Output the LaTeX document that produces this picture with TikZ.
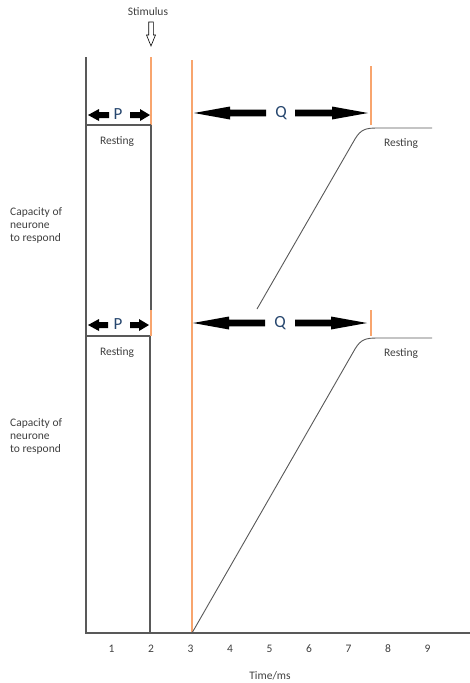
\documentclass[tikz,border=0pt]{standalone}
\usepackage{fontspec}
\setmainfont{Carlito}
\definecolor{axisgray}{RGB}{89,89,89}
\definecolor{orangeln}{RGB}{248,165,110}
\definecolor{txtgray}{RGB}{64,64,64}
\definecolor{pqblue}{RGB}{38,70,110}
\newcommand{\blockarr}[6]{% tipx, basex, endx, y, headhalf, shafthalf
  \fill[black] (#1,#4) -- (#2,#4-#5) -- (#2,#4-#6) -- (#3,#4-#6) -- (#3,#4+#6) -- (#2,#4+#6) -- (#2,#4+#5) -- cycle;}
\begin{document}
\begin{tikzpicture}[x=1pt,y=-1pt,
  ln/.style={draw=axisgray,line width=1.1pt},
  oln/.style={draw=orangeln,line width=1.1pt},
  lbl/.style={text=txtgray,font=\fontsize{11.5}{13}\selectfont,inner sep=0pt},
  pq/.style={text=pqblue,font=\fontsize{17}{17}\selectfont,inner sep=0pt}]
\useasboundingbox[fill=white] (0,0) rectangle (470,683);

% stimulus
\node[lbl] (stim) at (148,12) {Stimulus};
\draw[black,line width=0.6pt,fill=white] (148.7,22) -- (153.3,22) -- (153.3,35) -- (155.5,35) -- (151,46) -- (146.5,35) -- (148.7,35) -- cycle;

% ---------- top diagram ----------
\draw[ln] (86,57) -- (86,633);
\draw[oln] (151,57) -- (151,125);
\draw[ln] (151,125) -- (151,310);
\draw[ln] (86,125) -- (151,125);
\draw[oln] (192,60) -- (192,633);
\draw[oln] (371,66) -- (371,125);
\blockarr{88}{99}{109}{115}{6}{3}
\blockarr{150}{140}{130}{115}{6}{3}
\node[pq] (ptop) at (118,114) {P};
\blockarr{194}{230}{266}{113}{6.5}{3.3}
\blockarr{368}{332}{295}{113}{6.5}{3.3}
\node[pq] (qtop) at (281,113) {Q};
\node[lbl] (rest1) at (117,142) {Resting};
\node[lbl] (rest2) at (401,144) {Resting};
\draw[axisgray,line width=0.9pt] (257,309) -- (355,139) .. controls (361,129) and (366,128) .. (378,128) -- (432,128);
\node[lbl,anchor=west,align=left] (cap1) at (10,225) {Capacity of\\neurone\\to respond};

% ---------- bottom diagram ----------
\draw[oln] (151,310) -- (151,336);
\draw[ln] (150,336) -- (150,633);
\draw[ln] (86,336) -- (150,336);
\draw[oln] (371,310) -- (371,336);
\blockarr{88}{99}{108}{325}{6}{3}
\blockarr{149}{139}{130}{325}{6}{3}
\node[pq] (pbot) at (118,324) {P};
\blockarr{193}{229}{265}{323}{6.5}{3.3}
\blockarr{367}{331}{295}{323}{6.5}{3.3}
\node[pq] (qbot) at (280,323) {Q};
\node[lbl] (rest3) at (117,353) {Resting};
\node[lbl] (rest4) at (401,354) {Resting};
\draw[axisgray,line width=0.9pt] (192,633) -- (355,349) .. controls (361,339) and (366,338) .. (378,338) -- (432,338);
\node[lbl,anchor=west,align=left] (cap2) at (10,436) {Capacity of\\neurone\\to respond};

% axis
\draw[ln] (85,633) -- (470,633);
\foreach \i in {1,...,9} {
  \node[lbl] (t\i) at ({72+39.5*\i},649) {\i};
}
\node[lbl] (time) at (270,676) {Time/ms};
\end{tikzpicture}
\end{document}
